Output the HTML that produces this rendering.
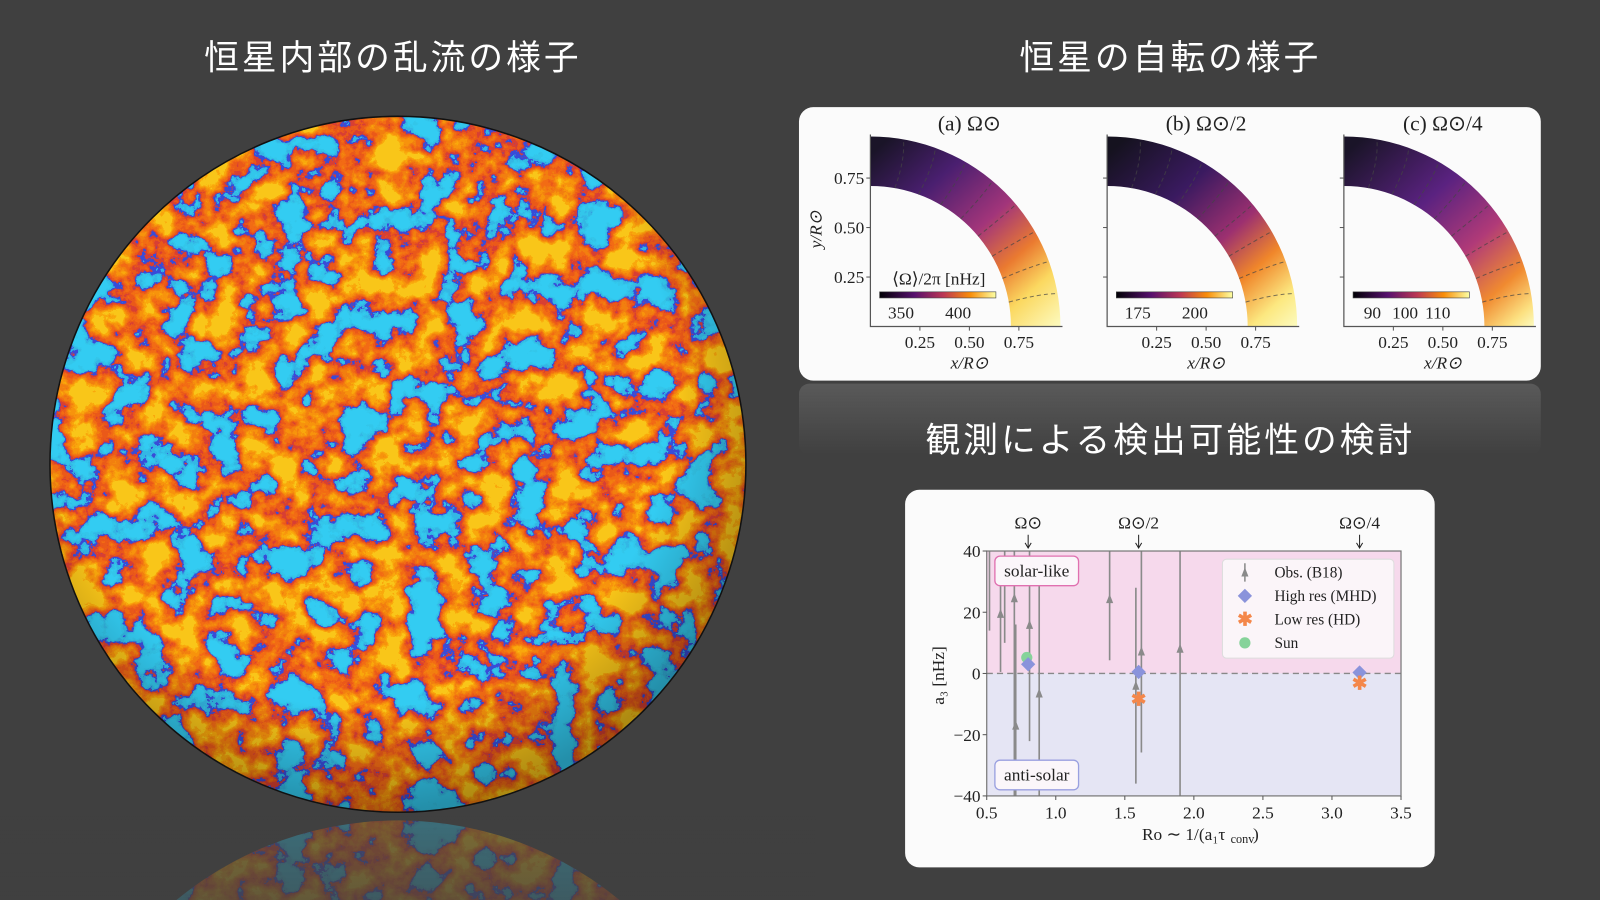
<!DOCTYPE html>
<html><head><meta charset="utf-8">
<style>
html,body{margin:0;padding:0;background:#404040;width:1600px;height:900px;overflow:hidden;}
#root{position:relative;width:1600px;height:900px;overflow:hidden;background:#404040;font-family:"Liberation Serif",serif;}
#inner{position:absolute;left:0;top:0;width:1568px;height:882px;transform:scale(1.0204);transform-origin:0 0;overflow:hidden;}
.h{position:absolute;color:#fff;font-family:"Liberation Sans","Noto Sans CJK JP",sans-serif;font-size:34px;line-height:44px;letter-spacing:3px;white-space:nowrap;transform:translateX(-50%);}
svg{position:absolute;left:0;top:0;}
</style></head>
<body>
<div id="root">
<div id="inner">
<svg id="sv" width="1568" height="882" viewBox="0 0 1568 882">
<defs>
<filter id="turb" x="0" y="0" width="100%" height="100%" color-interpolation-filters="sRGB">
<feTurbulence type="fractalNoise" baseFrequency="0.03" numOctaves="6" seed="11"/>
<feColorMatrix type="matrix" values="2.4 0 0 0 -0.7  2.4 0 0 0 -0.7  2.4 0 0 0 -0.7  0 0 0 0 1"/>
<feComponentTransfer>
<feFuncR type="discrete" tableValues="0.2 0.2 0.2 0.22 0.85 0.92 0.95 0.95 0.97 0.98 0.98"/>
<feFuncG type="discrete" tableValues="0.8 0.78 0.72 0.3 0.25 0.35 0.42 0.5 0.58 0.66 0.78"/>
<feFuncB type="discrete" tableValues="0.95 0.92 0.9 0.85 0.2 0.1 0.08 0.06 0.05 0.05 0.1"/>
</feComponentTransfer>
</filter>
<radialGradient id="shade" cx="0.45" cy="0.4" r="0.6">
<stop offset="0.75" stop-color="#000" stop-opacity="0"/>
<stop offset="1" stop-color="#000" stop-opacity="0.3"/>
</radialGradient>
<clipPath id="sph"><circle cx="390" cy="455" r="341"/></clipPath>
<clipPath id="sphR"><rect x="0" y="800" width="800" height="100"/></clipPath>
<linearGradient id="cbar" x1="0" x2="1">
<stop offset="0" stop-color="#000004"/><stop offset="0.3" stop-color="#57106e"/>
<stop offset="0.55" stop-color="#bc3754"/><stop offset="0.78" stop-color="#f98e09"/><stop offset="1" stop-color="#fcffa4"/>
</linearGradient>
<linearGradient id="fadeTop" x1="0" y1="0" x2="0" y2="1">
<stop offset="0" stop-color="#404040" stop-opacity="0.3"/><stop offset="1" stop-color="#404040" stop-opacity="1"/>
</linearGradient>
<linearGradient id="refl" x1="0" y1="0" x2="0" y2="1">
<stop offset="0" stop-color="#8a8a8a" stop-opacity="0.35"/><stop offset="1" stop-color="#8a8a8a" stop-opacity="0"/>
</linearGradient>
</defs>
<g>
<g clip-path="url(#sph)"><rect x="49" y="114" width="682" height="682" filter="url(#turb)"/></g>
<circle cx="390" cy="455" r="341" fill="url(#shade)"/>
<circle cx="390" cy="455" r="341" fill="none" stroke="#111" stroke-width="1.5"/>
</g>
<g opacity="0.4" clip-path="url(#sphR)">
<g transform="translate(0,1600) scale(1,-1)"><g clip-path="url(#sph)"><rect x="49" y="114" width="682" height="682" filter="url(#turb)"/></g></g>
</g>
<rect x="0" y="800" width="800" height="100" fill="url(#fadeTop)" opacity="0.6"/>
<rect x="783" y="105" width="727" height="268" rx="14" fill="#fbfbfb"/>
<rect x="783" y="376" width="727" height="70" rx="10" fill="url(#refl)"/>
<g id="rot"></g>
<rect x="887" y="480" width="519" height="370" rx="14" fill="#fbfbfb"/>
<g id="chart"></g>
</svg>
<div class="h" style="left:385px;top:35px;">恒星内部の乱流の様子</div>
<div class="h" style="left:1147px;top:35px;">恒星の自転の様子</div>
<div class="h" style="left:1147px;top:410px;">観測による検出可能性の検討</div>
</div>
</div>
<script>
// ---- data for a3 vs Ro chart ----
const xTicks=[0.5,1.0,1.5,2.0,2.5,3.0,3.5];
const yTicks=[40,20,0,-20,-40];
const obsRo=[0.52,0.60,0.63,0.70,0.71,0.81,0.88,1.39,1.58,1.62,1.90];
const obsA3=[50,19.5,45,24.6,-17,15.9,-6.5,24.3,-4,7.2,8.1];
const obsErr=[36,19,35,70,33,38,38,20,32,33,60];
const mhdRo=[0.80,1.60,3.20];
const mhdA3=[3.0,0.5,0.3];
const hdRo=[1.60,3.20];
const hdA3=[-8.5,-3.3];
const sunRo=[0.79];
const sunA3=[5.2];
const topLabels=["Ω⊙","Ω⊙/2","Ω⊙/4"];
const topRo=[0.80,1.60,3.20];
const cbTicks=[["350","400"],["175","200"],["90","100","110"]];
const panelTitles=["(a) Ω⊙","(b) Ω⊙/2","(c) Ω⊙/4"];

const NS="http://www.w3.org/2000/svg";
function mk(tag,attrs,parent,text){const e=document.createElementNS(NS,tag);for(const k in attrs)e.setAttribute(k,attrs[k]);if(text!==undefined)e.textContent=text;parent.appendChild(e);return e;}

const X0=967,X1=1373,Y0=540,Y1=780;
const xs=v=>X0+(v-0.5)/3.0*(X1-X0);
const ys=v=>Y0+(40-v)/80*(Y1-Y0);
const g=document.getElementById('chart');
let e;
e=mk('rect',{x:X0,y:Y0,width:X1-X0,height:ys(0)-Y0,fill:'#f6d9ec'},g);


e=mk('rect',{x:X0,y:ys(0),width:X1-X0,height:Y1-ys(0),fill:'#e5e5f4'},g);


e=mk('line',{x1:X0,x2:X1,y1:ys(0),y2:ys(0),stroke:'#888','stroke-dasharray':'6,4','stroke-width':1.3},g);


for(let i=0;i<obsRo.length;i++){
  const x=xs(obsRo[i]);
  const top=Math.max(Y0,ys(obsA3[i]+obsErr[i])), bot=Math.min(Y1,ys(obsA3[i]-obsErr[i]));
  e=mk('line',{x1:x,x2:x,y1:top,y2:bot,stroke:'#8a8a8a','stroke-width':1.6},g);
  
  
  const y=ys(obsA3[i]);
  if(obsA3[i]<=40){
  e=mk('path',{d:`M${x-3.5},${y+4}L${x},${y-5}L${x+3.5},${y+4}Z`,fill:'#8a8a8a'},g);
  
  }
}
for(let i=0;i<sunRo.length;i++){
  e=mk('circle',{cx:xs(sunRo[i]),cy:ys(sunA3[i]),r:5.5,fill:'#86d39a'},g);
  
  
}
for(let i=0;i<mhdRo.length;i++){
  const x=xs(mhdRo[i]),y=ys(mhdA3[i]);
  e=mk('path',{d:`M${x},${y-7}L${x+7},${y}L${x},${y+7}L${x-7},${y}Z`,fill:'#8a93db'},g);
  
  
}
for(let i=0;i<hdRo.length;i++){
  const x=xs(hdRo[i]),y=ys(hdA3[i]);
  e=mk('text',{x:x,y:y+6,'text-anchor':'middle','font-size':18,'font-weight':'bold',fill:'#f4874a','font-family':'Liberation Sans,sans-serif'},g,'✱');
  
  
}
e=mk('rect',{x:X0,y:Y0,width:X1-X0,height:Y1-Y0,fill:'none',stroke:'#777','stroke-width':1.2},g);


xTicks.forEach(t=>{
  mk('line',{x1:xs(t),x2:xs(t),y1:Y1,y2:Y1+4,stroke:'#555'},g);
  e=mk('text',{x:xs(t),y:Y1+22,'text-anchor':'middle','font-size':17,fill:'#222'},g,t.toFixed(1));
  
  
});
yTicks.forEach(t=>{
  mk('line',{x1:X0-4,x2:X0,y1:ys(t),y2:ys(t),stroke:'#555'},g);
  e=mk('text',{x:X0-6,y:ys(t)+6,'text-anchor':'end','font-size':17,fill:'#222'},g,t<0?'−'+(-t):String(t));
  
  
});
topRo.forEach((r,i)=>{
  e=mk('text',{x:xs(r),y:Y0-22,'text-anchor':'middle','font-size':17,fill:'#222'},g,topLabels[i]);
  
  
  mk('path',{d:`M${xs(r)},${Y0-16}V${Y0-4}M${xs(r)-3},${Y0-8}L${xs(r)},${Y0-3}L${xs(r)+3},${Y0-8}`,stroke:'#222',fill:'none'},g);
});
e=mk('text',{x:1160,y:823,'text-anchor':'middle','font-size':17,fill:'#222'},g,'Ro ∼ 1/(a₁τ');


mk('text',{x:1206,y:826,'font-size':12,fill:'#222'},g,'conv');
mk('text',{x:1228,y:823,'font-size':17,fill:'#222'},g,')');
e=mk('text',{x:0,y:0,transform:'translate(925,662) rotate(-90)','text-anchor':'middle','font-size':17,fill:'#222'},g,'a₃ [nHz]');


[[975,545,'solar-like','#e070b0','solar-like-label'],[975,745,'anti-solar','#9aa0e0','anti-solar-label']].forEach(b=>{
  e=mk('rect',{x:b[0],y:b[1],width:82,height:29,rx:5,fill:'#fbf6fa',stroke:b[3],'stroke-width':1.3},g);
  
  
  mk('text',{x:b[0]+41,y:b[1]+20,'text-anchor':'middle','font-size':17,fill:'#222'},g,b[2]);
});
e=mk('rect',{x:1198,y:548,width:168,height:97,rx:4,fill:'#fbf5f9',stroke:'#ddd'},g);


const lg=[['Obs. (B18)','obs'],['High res (MHD)','mhd'],['Low res (HD)','hd'],['Sun','sun']];
lg.forEach((l,i)=>{
  const y=561+i*23,x=1220;
  if(l[1]=='obs'){mk('line',{x1:x,x2:x,y1:y-9,y2:y+9,stroke:'#8a8a8a','stroke-width':1.5},g);mk('path',{d:`M${x-3.5},${y+4}L${x},${y-5}L${x+3.5},${y+4}Z`,fill:'#8a8a8a'},g);}
  if(l[1]=='mhd')mk('path',{d:`M${x},${y-7}L${x+7},${y}L${x},${y+7}L${x-7},${y}Z`,fill:'#8a93db'},g);
  if(l[1]=='hd')mk('text',{x:x,y:y+6,'text-anchor':'middle','font-size':18,'font-weight':'bold',fill:'#f4874a','font-family':'Liberation Sans,sans-serif'},g,'✱');
  if(l[1]=='sun')mk('circle',{cx:x,cy:y,r:5.5,fill:'#86d39a'},g);
  e=mk('text',{x:1249,y:y+5,'font-size':15,fill:'#222'},g,l[0]);
  
  
});

const rg=document.getElementById('rot');
const origins=[853,1085,1317];
const s=194, oy=320, rin=0.71*s, rout=0.96*s;
origins.forEach((ox,k)=>{
  const sub=mk('g',{},rg);
  
  
  const gid='ig'+k;
  const lgd=mk('linearGradient',{id:gid,gradientUnits:'userSpaceOnUse',x1:ox+20,y1:oy-rout,x2:ox+rout,y2:oy},sub);
  const st=k==0?[[0,'#1a1428'],[0.25,'#4a1f70'],[0.5,'#a2357a'],[0.68,'#ea7a30'],[0.82,'#fbd860'],[1,'#fcfbc0']]:
           k==1?[[0,'#15121f'],[0.3,'#3a1a60'],[0.55,'#9c3070'],[0.72,'#f0862a'],[0.88,'#fce880'],[1,'#fcfbc0']]:
                [[0,'#1a1428'],[0.35,'#5a2280'],[0.6,'#b03a78'],[0.8,'#f08a30'],[0.93,'#fce080'],[1,'#fcfbc0']];
  st.forEach(p=>mk('stop',{offset:p[0],'stop-color':p[1]},lgd));
  const d=`M${ox},${oy-rout}A${rout},${rout} 0 0 1 ${ox+rout},${oy}L${ox+rin},${oy}A${rin},${rin} 0 0 0 ${ox},${oy-rin}Z`;
  mk('path',{d:d,fill:'url(#'+gid+')'},sub);
  for(let j=1;j<9;j++){
    const a=j/9*Math.PI/2, r1=rin, r2=rout;
    const cx=ox+Math.sin(a)*(r1+r2)/2;
    mk('path',{d:`M${ox+Math.sin(a)*r1},${oy-Math.cos(a)*r1}Q${cx+6},${oy-Math.cos(a)*(r1+r2)/2-4} ${ox+Math.sin(a)*r2},${oy-Math.cos(a)*r2}`,stroke:'#444',fill:'none','stroke-dasharray':'4,3','stroke-width':1,opacity:0.7},sub);
  }
  mk('path',{d:`M${ox},${oy-rout-2}V${oy}H${ox+rout+2}`,stroke:'#555',fill:'none','stroke-width':1.2},sub);
  [0.25,0.5,0.75].forEach(t=>{
    mk('line',{x1:ox+t*s,x2:ox+t*s,y1:oy,y2:oy+4,stroke:'#555'},sub);
    mk('line',{x1:ox-4,x2:ox,y1:oy-t*s,y2:oy-t*s,stroke:'#555'},sub);
    e=mk('text',{x:ox+t*s,y:oy+21,'text-anchor':'middle','font-size':17,fill:'#222'},sub,t.toFixed(2));
    
    
    if(k==0){e=mk('text',{x:ox-6,y:oy-t*s+6,'text-anchor':'end','font-size':17,fill:'#222'},sub,t.toFixed(2));
    
    }
  });
  e=mk('text',{x:ox+97,y:128,'text-anchor':'middle','font-size':21,fill:'#222'},sub,panelTitles[k]);
  
  
  e=mk('text',{x:ox+97,y:361,'text-anchor':'middle','font-size':17,'font-style':'italic',fill:'#222'},sub,'x/R⊙');
  
  
  e=mk('rect',{x:ox+9,y:286,width:114,height:6,fill:'url(#cbar)',stroke:'#444','stroke-width':0.6},sub);
  
  
  const tk=cbTicks[k];
  tk.forEach((t,i)=>{
    const x=k==2?ox+28+i*32:ox+30+i*56;
    mk('text',{x:x,y:312,'text-anchor':'middle','font-size':17,fill:'#222'},sub,t);
  });
});
e=mk('text',{x:920,y:279,'text-anchor':'middle','font-size':17,fill:'#222'},rg,'⟨Ω⟩/2π [nHz]');


e=mk('text',{x:0,y:0,transform:'translate(805,225) rotate(-90)','text-anchor':'middle','font-size':17,'font-style':'italic',fill:'#222'},rg,'y/R⊙');


</script>
</body></html>
